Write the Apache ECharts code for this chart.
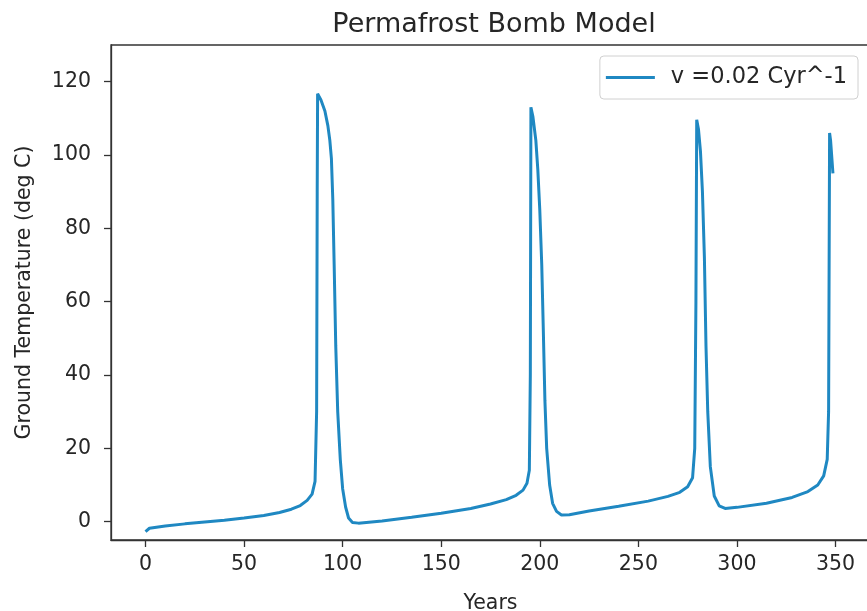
<!DOCTYPE html>
<html>
<head>
<meta charset="utf-8">
<title>Permafrost Bomb Model</title>
<script src="https://cdn.jsdelivr.net/npm/echarts@6/dist/echarts.min.js"></script>
<style>
  html, body { margin: 0; padding: 0; background: #fff; }
  #chart { width: 867px; height: 611px; }
</style>
</head>
<body>
<div id="chart"></div>
<script>
// values
var years = [0, 0.5, 2, 10, 20, 30, 40, 50, 60, 68, 74, 78.5, 82, 84.5, 86, 86.8, 87.1, 87.3,
    89, 91, 92.5, 93.5, 94.3, 95, 95.7, 96.5, 97.5, 98.8, 100, 101.5, 103, 105, 108,
    120, 135, 150, 165, 175, 183, 188, 191.5, 193.5, 194.7, 195.2, 195.5,
    196.5, 198, 199, 200, 201, 201.8, 202.6, 203.5, 205, 206.5, 208.5, 211, 215,
    225, 240, 255, 265, 271, 275, 277.5, 278.6, 279.2, 279.6,
    280.5, 281.5, 282.5, 283.5, 284.3, 285.2, 286.5, 288.5, 291, 294,
    300, 315, 328, 336, 341, 344, 345.8, 346.5, 347, 347.5, 348.3, 348.7];
var temps = [-2.7, -2.3, -1.8, -1.2, -0.6, -0.1, 0.4, 1.0, 1.7, 2.5, 3.4, 4.4, 5.8, 7.5, 11, 30, 90, 116.7,
    115, 112, 108, 104, 99, 88, 70, 48, 30, 17, 9, 4, 1, -0.2, -0.4,
    0.2, 1.2, 2.3, 3.6, 4.8, 6.0, 7.2, 8.6, 10.5, 14, 40, 113,
    110.5, 104, 96, 85, 70, 52, 33, 20, 10, 5, 2.8, 1.8, 1.9,
    2.9, 4.2, 5.6, 6.9, 8.0, 9.5, 12, 20, 60, 109.6,
    107, 101, 90, 72, 48, 30, 15, 7, 4.3, 3.6,
    3.9, 5.0, 6.6, 8.2, 10, 12.5, 17, 30, 106, 104, 98, 95];
var xTicks = [0, 50, 100, 150, 200, 250, 300, 350];
var yTicks = [0, 20, 40, 60, 80, 100, 120];
var seriesName = 'v =0.02 Cyr^-1';

var points = years.map(function (y, i) {
    return [y, temps[i]];
});

var lineColor = '#1f88c2';
var inkColor = '#262626';
var font = 'DejaVu Sans';

var chart = echarts.init(document.getElementById('chart'), null, { renderer: 'canvas' });

var option = {
    backgroundColor: '#fff',
    animation: false,
    title: {
        text: 'Permafrost Bomb Model',
        left: 489,
        top: 6,
        textAlign: 'center',
        textStyle: {
            fontFamily: font,
            fontSize: 27,
            fontWeight: 'normal',
            color: inkColor
        }
    },
    legend: {
        data: [seriesName],
        icon: 'rect',
        right: 9,
        top: 56,
        padding: [10, 11, 10, 6],
        itemWidth: 49,
        itemHeight: 3,
        itemGap: 10,
        borderColor: '#d0d0d0',
        borderWidth: 1,
        borderRadius: 4,
        backgroundColor: 'rgba(255,255,255,0.8)',
        textStyle: {
            fontFamily: font,
            fontSize: 22.5,
            color: inkColor,
            padding: [0, 0, 0, 11]
        }
    },
    grid: {
        left: 111,
        top: 45,
        right: -3,
        bottom: 71,
        show: true,
        borderColor: '#333',
        borderWidth: 1.3,
        containLabel: false,
        outerBoundsMode: 'none'
    },
    xAxis: {
        type: 'value',
        min: -17.5,
        max: 367.5,
        name: 'Years',
        nameLocation: 'middle',
        nameGap: 53,
        nameTextStyle: {
            fontFamily: font,
            fontSize: 20.5,
            color: inkColor
        },
        splitLine: { show: false },
        axisLine: { show: true, onZero: false, lineStyle: { color: '#333', width: 1.3 } },
        axisTick: {
            show: true,
            length: 7,
            customValues: xTicks,
            lineStyle: { color: '#333', width: 1.3 }
        },
        axisLabel: {
            customValues: xTicks,
            margin: 14,
            fontFamily: font,
            fontSize: 20.5,
            color: inkColor
        }
    },
    yAxis: {
        type: 'value',
        min: -5,
        max: 130,
        name: 'Ground Temperature (deg C)',
        nameLocation: 'middle',
        nameRotate: 90,
        nameGap: 76,
        nameTextStyle: {
            fontFamily: font,
            fontSize: 20.5,
            color: inkColor
        },
        splitLine: { show: false },
        axisLine: { show: true, onZero: false, lineStyle: { color: '#333', width: 1.3 } },
        axisTick: {
            show: true,
            length: 7,
            customValues: yTicks,
            lineStyle: { color: '#333', width: 1.3 }
        },
        axisLabel: {
            customValues: yTicks,
            margin: 20,
            fontFamily: font,
            fontSize: 20.5,
            color: inkColor
        }
    },
    series: [
        {
            name: seriesName,
            type: 'line',
            data: points,
            symbol: 'none',
            smooth: false,
            clip: true,
            lineStyle: {
                color: lineColor,
                width: 3
            },
            itemStyle: { color: lineColor }
        }
    ]
};

chart.setOption(option);
</script>
</body>
</html>
